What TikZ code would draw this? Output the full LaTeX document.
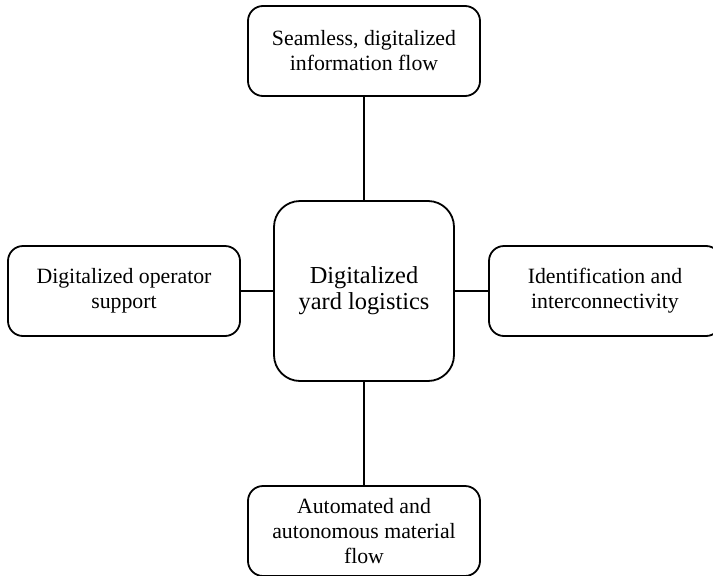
\documentclass[tikz,border=0pt]{standalone}
\usepackage{fontspec}
\setmainfont{Liberation Serif}
\begin{document}
\begin{tikzpicture}[x=1pt,y=-1pt,
  box/.style={draw, line width=1.8pt, rounded corners=15pt, minimum width=232pt, minimum height=90pt,
    align=center, font=\fontsize{21.8}{25}\selectfont, inner sep=0pt},
  hub/.style={draw, line width=1.8pt, rounded corners=26pt, minimum width=180pt, minimum height=180pt,
    align=center, font=\fontsize{24.4}{26}\selectfont, inner sep=0pt},
  link/.style={line width=1.8pt}]
  \clip (0,0) rectangle (713,576);
  \useasboundingbox (0,0) rectangle (713,576);
  % central topic
  \node[hub] (core) at (364,291) {Digitalized\\yard logistics};
  % surrounding aspects
  \node[box] (flow) at (364,51) {Seamless, digitalized\\information flow};
  \node[box] (oper) at (124,291) {Digitalized operator\\support};
  \node[box] (ident) at (605,291) {Identification and\\interconnectivity};
  \node[box] (auto) at (364,531) {Automated and\\autonomous material\\flow};
  % connections to the hub
  \draw[link] (flow) -- (core);
  \draw[link] (oper) -- (core);
  \draw[link] (core) -- (ident);
  \draw[link] (core) -- (auto);
\end{tikzpicture}
\end{document}
